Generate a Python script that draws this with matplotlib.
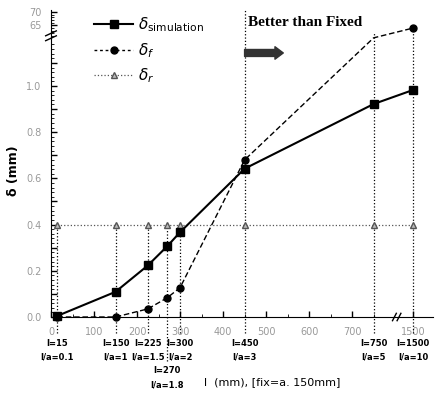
import numpy as np
import matplotlib
matplotlib.use('Agg')
import matplotlib.pyplot as plt
from matplotlib.lines import Line2D
from matplotlib.ticker import FixedLocator, FixedFormatter
from matplotlib.transforms import blended_transform_factory

# ---- data ----
l_vals = [15, 150, 225, 270, 300, 450, 750, 1500]
la_vals = ['0.1', '1', '1.5', '1.8', '2', '3', '5', '10']
delta_sim = [0.005, 0.109, 0.223, 0.306, 0.367, 0.642, 0.922, 0.983]
delta_f = [0.0, 0.0, 0.035, 0.083, 0.127, 0.68, 60.3, 64.0]
delta_r = [0.4, 0.4, 0.4, 0.4, 0.4, 0.4, 0.4, 0.4]
x_tick_vals = [0, 100, 200, 300, 400, 500, 600, 700, 1500]
x_tick_labels = ['0', '100', '200', '300', '400', '500', '600', '700', '1500']
y_major_vals = [0.0, 0.1, 0.2, 0.3, 0.4, 0.5, 0.6, 0.7, 0.8, 0.9, 1.0, 1.1, 65, 70]
y_major_labels = ['0.0', '', '0.2', '', '0.4', '', '0.6', '', '0.8', '', '1.0', '', '65', '70']

# ---- broken scales ----
XB, XK = 800.0, 0.06
def xf(x):
    x = np.asarray(x, float)
    return np.where(x <= XB, x, XB + (x - XB) * XK)
def xi(t):
    t = np.asarray(t, float)
    return np.where(t <= XB, t, XB + (t - XB) / XK)

Y1, Y2, T2, KU = 1.19, 60.0, 1.205, 0.0115
KG = (T2 - Y1) / (Y2 - Y1)
def yf(v):
    v = np.asarray(v, float)
    return np.where(v <= Y1, v, np.where(v <= Y2, Y1 + (v - Y1) * KG, T2 + (v - Y2) * KU))
def yi(t):
    t = np.asarray(t, float)
    return np.where(t <= Y1, t, np.where(t <= T2, Y1 + (t - Y1) / KG, Y2 + (t - T2) / KU))

W, H = 436, 394
fig = plt.figure(figsize=(W / 100, H / 100), dpi=100)
ax = fig.add_axes([51 / W, 1 - 317 / H, (433 - 51) / W, (317 - 10) / H])
ax.set_xscale('function', functions=(xf, xi))
ax.set_yscale('function', functions=(yf, yi))
ax.set_xlim(0, float(xi(888)))
ax.set_ylim(0, float(yi(1.329)))

for s in ['top', 'right']:
    ax.spines[s].set_visible(False)

# ticks
ax.xaxis.set_major_locator(FixedLocator(x_tick_vals))
ax.xaxis.set_major_formatter(FixedFormatter(x_tick_labels))
ax.xaxis.set_minor_locator(FixedLocator([50, 150, 250, 350, 450, 550, 650, 750]))
ax.yaxis.set_major_locator(FixedLocator(y_major_vals))
ax.yaxis.set_major_formatter(FixedFormatter(y_major_labels))
ymin = list(np.round(np.arange(0, 1.19, 0.02), 3)) + [61, 62, 63, 64, 66, 67, 68, 69]
ax.yaxis.set_minor_locator(FixedLocator(ymin))
ax.tick_params(which='major', direction='in', length=4, width=1, labelsize=7,
               labelcolor='#999999', pad=7)
ax.tick_params(which='minor', direction='in', length=2, width=0.6)

# series
ax.plot(l_vals, delta_r, ls=':', lw=0.9, color='#555555', marker='^', ms=4,
        mfc='#bbbbbb', mec='#555555', clip_on=False, zorder=3)
ax.plot(l_vals, delta_f, ls=(0, (4, 2)), lw=1.0, color='black', marker='o', ms=5,
        markevery=[0, 1, 2, 3, 4, 5, 7], clip_on=False, zorder=4)
ax.plot(l_vals, delta_sim, ls='-', lw=1.5, color='black', marker='s', ms=6,
        clip_on=False, zorder=5)

# vertical guide lines
tops = {15: 0.4, 150: 0.4, 225: 0.4, 270: 0.4, 300: 0.4, 450: float(yi(1.329)),
        750: 62.1, 1500: 64.0}
for l in l_vals:
    bottom = -0.19 if l == 270 else -0.07
    ax.plot([l, l], [bottom, tops[l]], ls=':', lw=0.9, color='black',
            clip_on=False, zorder=2)

# annotations below axis
trans = blended_transform_factory(ax.transData, ax.transAxes)
for l, la in zip(l_vals, la_vals):
    if l == 270:
        y1, y2 = -0.173, -0.221
    else:
        y1, y2 = -0.0847, -0.130
    ax.text(l, y1, f'l={l}', transform=trans, ha='center', va='center',
            fontsize=6, fontweight='bold')
    ax.text(l, y2, f'l/a={la}', transform=trans, ha='center', va='center',
            fontsize=6, fontweight='bold')

# break marks
kw = dict(transform=ax.transAxes, color='black', lw=1.0, clip_on=False)
for dy in (0.0, 0.016):
    ax.plot([-0.014, 0.014], [0.900 + dy, 0.916 + dy], **kw)
for dx in (0.0, 0.012):
    ax.plot([0.894 + dx, 0.904 + dx], [-0.012, 0.012], **kw)

# arrow and text
ax.annotate('', xy=(540, 1.143), xytext=(450, 1.143),
            arrowprops=dict(arrowstyle='simple,head_length=0.6,head_width=0.9,tail_width=0.5',
                            color='#333333', shrinkA=0, shrinkB=0))
fig.text(248 / W, 1 - 22 / H, 'Better than Fixed', ha='left', va='center',
         fontfamily='Liberation Serif', fontweight='bold', fontsize=11)

# legend
handles = [
    Line2D([], [], ls='-', lw=1.5, color='black', marker='s', ms=6),
    Line2D([], [], ls=(0, (2, 2)), lw=1.0, color='black', marker='o', ms=5),
    Line2D([], [], ls=':', lw=0.9, color='#555555', marker='^', ms=4,
           mfc='#bbbbbb', mec='#555555'),
]
labels = [r'$\delta_{\mathrm{simulation}}$', r'$\delta_{f}$', r'$\delta_{r}$']
fig.legend(handles, labels, loc='upper left', bbox_to_anchor=(86 / W, 1 - 8 / H),
           frameon=False, fontsize=11, handlelength=2.6, labelspacing=0.45,
           borderpad=0, handletextpad=0.3)

# axis labels
fig.text(272 / W, 1 - 382 / H, 'l  (mm), [fix=a. 150mm]', ha='center', va='center',
         fontsize=8)
fig.text(13 / W, 1 - 171 / H, 'δ (mm)', rotation=90, ha='center', va='center',
         fontsize=9, fontweight='bold')

fig.savefig('out.png', dpi=100)
